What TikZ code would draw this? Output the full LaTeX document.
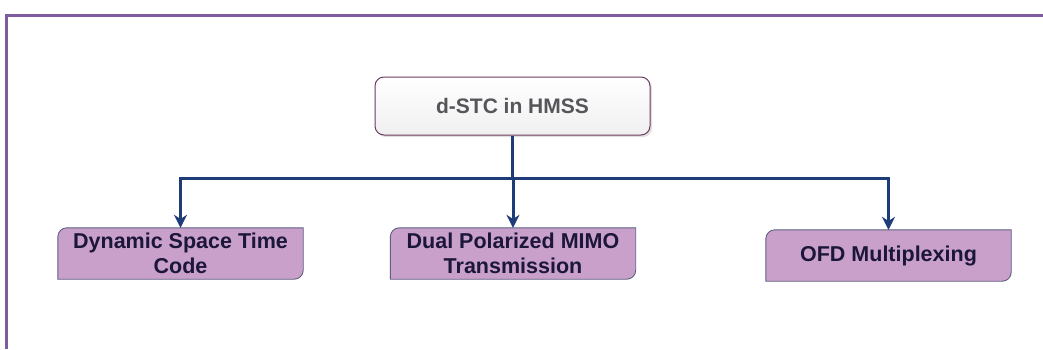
\documentclass[tikz,border=0pt]{standalone}
\usepackage{fontspec}
\setmainfont{Liberation Sans}
\usetikzlibrary{arrows.meta,calc,shadows}
\definecolor{frameC}{RGB}{125,92,160}
\definecolor{lineC}{RGB}{30,60,120}
\definecolor{boxFill}{RGB}{200,160,202}
\definecolor{boxEdge}{RGB}{95,95,130}
\definecolor{boxText}{RGB}{28,22,58}
\definecolor{topEdge}{RGB}{110,60,95}
\definecolor{topText}{RGB}{85,85,90}
\tikzset{
  topbox/.style={draw=topEdge, line width=1pt, rounded corners=9pt, top color=white, bottom color=gray!12,
    drop shadow={shadow xshift=2pt, shadow yshift=-2pt, opacity=0.25},
    minimum width=275pt, minimum height=58pt, inner sep=0pt,
    font=\fontsize{21}{25}\selectfont\bfseries, text=topText},
  leafbox/.style={minimum width=245pt, minimum height=51pt, inner sep=0pt, align=center,
    font=\fontsize{21.5}{25}\selectfont\bfseries, text=boxText},
  leafshape/.style={fill=boxFill, draw=boxEdge, line width=0.9pt},
  conn/.style={draw=lineC, line width=3pt},
  arr/.style={conn, -{Stealth[length=13pt,width=13pt]}},
}
\newcommand{\leafoutline}[1]{%
  \path[leafshape] ([xshift=9pt]#1.north west) -- (#1.north east)
    -- ([yshift=9pt]#1.south east) arc[start angle=0,end angle=-90,radius=9pt]
    -- (#1.south west) -- ([yshift=-9pt]#1.north west) arc[start angle=180,end angle=90,radius=9pt] -- cycle;}
\begin{document}
\begin{tikzpicture}[x=1pt,y=1pt]
\useasboundingbox (0,0) rectangle (1043,-349);
\fill[white] (0,0) rectangle (1043,-349);
\draw[frameC, line width=3pt] (6,-349) -- (6,-15) -- (1043,-15);

\node[topbox] (top) at (512.5,-106) {d-STC in HMSS};

\node[leafbox] (l1) at (180.5,-253.5) {};
\node[leafbox] (l2) at (513,-253.5) {};
\node[leafbox] (l3) at (888.5,-255.5) {};
\leafoutline{l1}
\leafoutline{l2}
\leafoutline{l3}
\node[leafbox] at (l1) {Dynamic Space Time\\Code};
\node[leafbox] at (l2) {Dual Polarized MIMO\\Transmission};
\node[leafbox] at (l3) {OFD Multiplexing};

\coordinate (hub) at (513,-178);
\draw[conn] (top.south) -- (top.south |- hub);
\draw[conn, line cap=butt] ([xshift=-1.5pt]l1.north |- hub) -- ([xshift=1.5pt]l3.north |- hub);
\draw[arr] (l1.north |- hub) -- (l1.north);
\draw[arr] (l2.north |- hub) -- (l2.north);
\draw[arr] (l3.north |- hub) -- (l3.north);
\end{tikzpicture}
\end{document}
